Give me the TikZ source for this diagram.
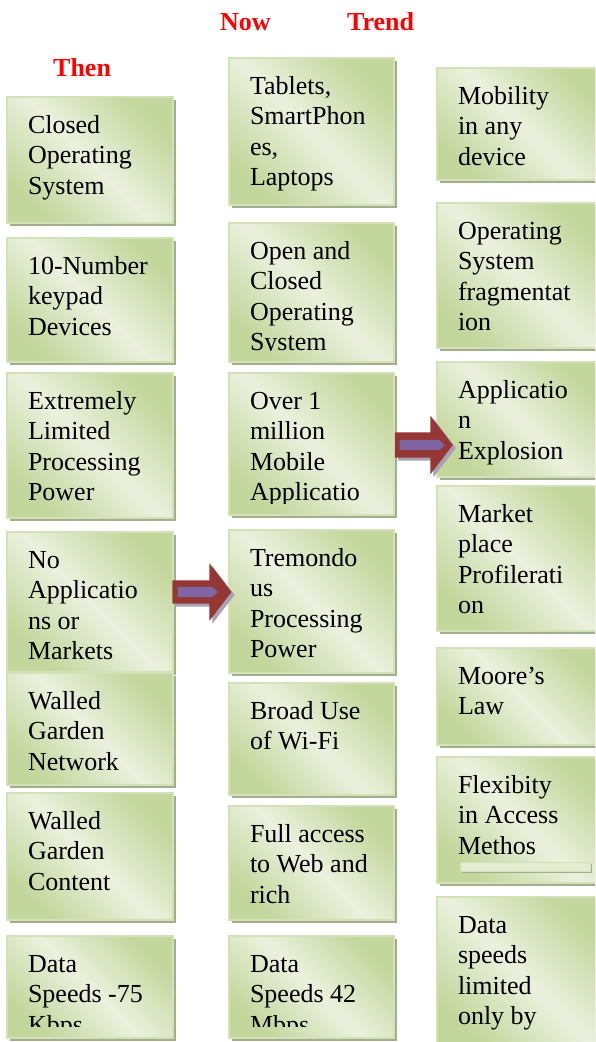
\documentclass[tikz,border=0pt]{standalone}
\usepackage{fontspec}
\setmainfont{Liberation Serif}
\usetikzlibrary{shadows,shapes.arrows}
\definecolor{carddark}{HTML}{C3D69B}
\definecolor{cardlight}{HTML}{EBF1DE}
\definecolor{cardline}{HTML}{D3E1B6}
\definecolor{cardshadow}{HTML}{A4AD8D}
\definecolor{arrowred}{HTML}{953735}
\definecolor{arrowpurple}{HTML}{8064A2}
\definecolor{arrowshadow}{HTML}{A9A2B4}
\tikzset{
	card/.style={anchor=north west,inner sep=0pt,outer sep=0pt,draw=cardline,line width=1.2pt,
		top color=carddark,bottom color=carddark,middle color=cardlight,shading angle=-45,
		drop shadow={shadow xshift=3pt,shadow yshift=-3pt,fill=cardshadow,opacity=1}},
	cardtext/.style={anchor=base west,inner sep=0pt,text width=170pt,align=flush left,font=\fontsize{26}{30.5}\selectfont},
	head/.style={anchor=base west,inner sep=0pt,text=red,font=\fontsize{26}{30}\selectfont\bfseries},
	bigarrow/.style={single arrow,draw=none,fill=arrowred,inner sep=0pt,text depth=0pt,single arrow tip angle=105,
		drop shadow={shadow xshift=3pt,shadow yshift=-3pt,fill=arrowshadow,opacity=1}},
	arrowbar/.style={single arrow,draw=none,fill=arrowpurple,inner sep=0pt,text height=10pt,text depth=0pt,single arrow head extend=0pt}
}
\newcommand{\makecard}[6]{%
	\node[card,minimum width=#4pt,minimum height=#5pt,
		path picture={\clip (path picture bounding box.north west) rectangle ([yshift=12pt]path picture bounding box.south east);
			\node[cardtext] (#1txt) at ([shift={(21pt,-36pt)}]path picture bounding box.north west) {#6};}] (#1) at (#2,#3) {};}

\begin{document}
\begin{tikzpicture}[x=1pt,y=-1pt]
	\useasboundingbox (0,0) rectangle (595,1042);
	\clip (0,0) rectangle (595,1042);
	\node[head] (then) at (53,76) {Then};
	\node[head] (now) at (220,30) {Now};
	\node[head] (trend) at (347,30) {Trend};
	\makecard{T1}{7}{97}{166}{126}{Closed\\Operating\\System}
	\makecard{T2}{7}{238}{166}{124}{10-Number\\keypad\\Devices}
	\makecard{T3}{7}{373}{166}{145}{Extremely\\Limited\\Processing\\Power}
	\makecard{T4}{7}{532}{166}{140}{No\\Applicatio\\ns or\\Markets}
	\makecard{T5}{7}{673}{166}{112}{Walled\\Garden\\Network}
	\makecard{T6}{7}{793}{166}{127}{Walled\\Garden\\Content}
	\makecard{T7}{7}{936}{166}{102}{Data\\Speeds -75\\Kbps}
	\makecard{N1}{229}{58}{165}{147}{Tablets,\\SmartPhon\\es,\\Laptops}
	\makecard{N2}{229}{223}{165}{139}{Open and\\Closed\\Operating\\System}
	\makecard{N3}{229}{373}{165}{142}{Over 1\\million\\Mobile\\Applicatio}
	\makecard{N4}{229}{530}{165}{143}{Tremondo\\us\\Processing\\Power}
	\makecard{N5}{229}{683}{165}{112}{Broad Use\\of Wi-Fi}
	\makecard{N6}{229}{806}{165}{114}{Full access\\to Web and\\rich}
	\makecard{N7}{229}{936}{165}{102}{Data\\Speeds 42\\Mbps}
	\makecard{R1}{437}{68}{165}{112}{Mobility\\in any\\device}
	\makecard{R2}{437}{203}{165}{145}{Operating\\System\\fragmentat\\ion}
	\makecard{R3}{437}{362}{165}{115}{Applicatio\\n\\Explosion}
	\makecard{R4}{437}{486}{165}{145}{Market\\place\\Profilerati\\on}
	\makecard{R5}{437}{648}{165}{97}{Moore’s\\Law}
	\makecard{R6}{437}{757}{165}{126}{Flexibity\\in Access\\Methos}
	\node[anchor=north west,inner sep=0pt,minimum width=130pt,minimum height=9pt,fill=cardlight!80!carddark,draw=cardline,
		drop shadow={shadow xshift=2pt,shadow yshift=-2pt,fill=cardshadow,opacity=1}] (R6strip) at (460,862) {};
	\makecard{R7}{437}{897}{165}{150}{Data\\speeds\\limited\\only by}
	\node[bigarrow,text height=23pt,minimum height=59pt,single arrow head extend=17pt] (A1) at (197.5,592) {};
	\node[arrowbar,minimum height=40pt] (A1bar) at (195,592) {};
	\node[bigarrow,text height=25pt,minimum height=58pt,single arrow head extend=16.5pt] (A2) at (419,445) {};
	\node[arrowbar,minimum height=45pt] (A2bar) at (419.5,445) {};
\end{tikzpicture}
\end{document}
